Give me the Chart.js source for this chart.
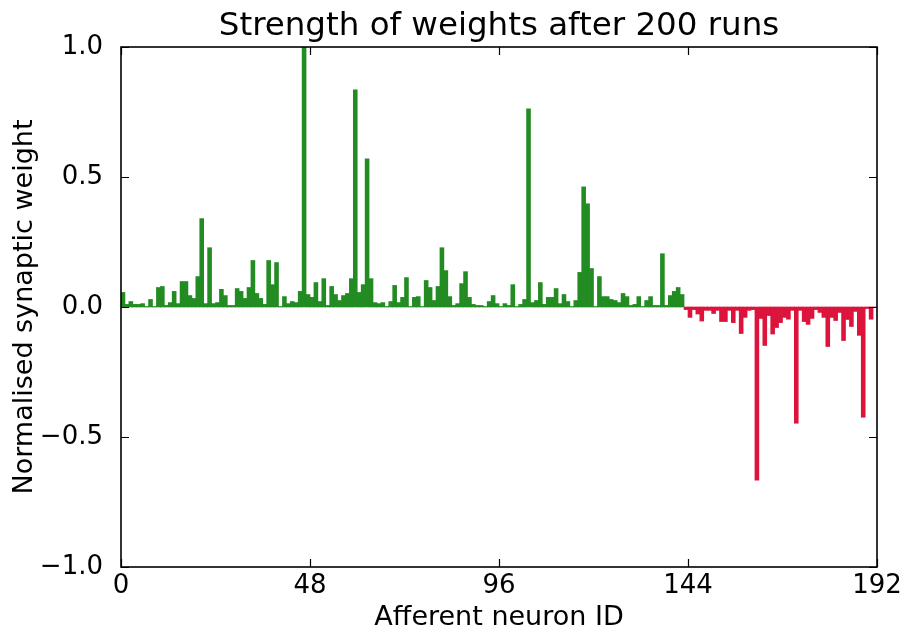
<!DOCTYPE html>
<html>
<head>
<meta charset="utf-8">
<script src="https://cdn.jsdelivr.net/npm/chart.js@4.4.1/dist/chart.umd.min.js"></script>
<style>
  html, body { margin: 0; padding: 0; background: #ffffff; }
  #wrap { width: 909px; height: 638px; }
</style>
</head>
<body>
<div id="wrap"><canvas id="c" width="909" height="638"></canvas></div>
<script>
// ---- data ----
const chartTitle = "Strength of weights after 200 runs";
const xAxisLabel = "Afferent neuron ID";
const yAxisLabel = "Normalised synaptic weight";

// excitatory afferents (IDs 0..142)
const weightsExc = [
  0.056, 0.010, 0.021, 0.010, 0.010, 0.013, 0.002, 0.029, 0.002, 0.075,
  0.079, 0.006, 0.017, 0.060, 0.013, 0.098, 0.098, 0.044, 0.033, 0.117,
  0.340, 0.013, 0.228, 0.013, 0.017, 0.068, 0.044, 0.006, 0.006, 0.071,
  0.060, 0.033, 0.075, 0.179, 0.052, 0.033, 0.010, 0.179, 0.086, 0.171,
  0.002, 0.040, 0.013, 0.021, 0.017, 0.060, 1.000, 0.048, 0.037, 0.094,
  0.021, 0.109, 0.006, 0.079, 0.048, 0.025, 0.044, 0.052, 0.109, 0.835,
  0.056, 0.086, 0.570, 0.109, 0.017, 0.013, 0.017, 0.002, 0.021, 0.083,
  0.017, 0.037, 0.113, 0.002, 0.037, 0.040, 0.002, 0.102, 0.075, 0.025,
  0.079, 0.228, 0.140, 0.040, 0.006, 0.013, 0.090, 0.136, 0.037, 0.010,
  0.006, 0.006, 0.002, 0.021, 0.044, 0.013, 0.002, 0.013, 0.006, 0.086,
  0.002, 0.010, 0.029, 0.762, 0.017, 0.025, 0.094, 0.010, 0.037, 0.037,
  0.071, 0.013, 0.048, 0.021, 0.002, 0.025, 0.133, 0.462, 0.397, 0.148,
  0.002, 0.117, 0.040, 0.040, 0.029, 0.025, 0.017, 0.052, 0.040, 0.006,
  0.010, 0.040, 0.002, 0.025, 0.040, 0.006, 0.006, 0.205, 0.006, 0.044,
  0.060, 0.075, 0.048
];
// inhibitory afferents (IDs 143..191)
const weightsInh = [
  -0.010, -0.040, -0.010, -0.027, -0.054, -0.013, -0.013, -0.025, -0.013, -0.056,
  -0.056, -0.013, -0.060, -0.013, -0.102, -0.040, -0.013, -0.010, -0.666, -0.044,
  -0.148, -0.033, -0.104, -0.079, -0.060, -0.040, -0.047, -0.013, -0.447, -0.013,
  -0.056, -0.067, -0.044, -0.010, -0.021, -0.040, -0.152, -0.040, -0.052, -0.021,
  -0.129, -0.048, -0.075, -0.017, -0.109, -0.424, -0.006, -0.047, 0.000
];
const xTickValues = [0, 48, 96, 144, 192];
const xTickLabels = ["0", "48", "96", "144", "192"];
const yTickValues = [-1.0, -0.5, 0.0, 0.5, 1.0];
const yTickLabels = ["\u22121.0", "\u22120.5", "0.0", "0.5", "1.0"];
const excColor = "#228B22";
const inhColor = "#DC143C";

// ---- build library structures ----
const firstInhId = weightsExc.length;
const excPoints = weightsExc.map((w, i) => ({ x: i + 0.5, y: w }));
const inhPoints = weightsInh.map((w, i) => ({ x: firstInhId + i + 0.5, y: w }));

const FONT = "'DejaVu Sans', 'Liberation Sans', sans-serif";

const framePlugin = {
  id: 'frameTicks',
  afterDraw(chart) {
    const { ctx, chartArea: a, scales } = chart;
    const len = 8;
    ctx.save();
    ctx.strokeStyle = '#000';
    ctx.lineWidth = 1.2;
    ctx.beginPath();
    xTickValues.forEach(v => {
      const px = Math.round(scales.x.getPixelForValue(v)) + 0.5;
      ctx.moveTo(px, a.bottom); ctx.lineTo(px, a.bottom - len);
      ctx.moveTo(px, a.top); ctx.lineTo(px, a.top + len);
    });
    yTickValues.forEach(v => {
      const py = Math.round(scales.y.getPixelForValue(v)) + 0.5;
      ctx.moveTo(a.left, py); ctx.lineTo(a.left + len, py);
      ctx.moveTo(a.right, py); ctx.lineTo(a.right - len, py);
    });
    ctx.stroke();
    ctx.lineWidth = 1.6;
    ctx.strokeRect(a.left, a.top, a.right - a.left, a.bottom - a.top);
    ctx.restore();
  }
};

new Chart(document.getElementById('c'), {
  type: 'bar',
  data: {
    datasets: [
      { label: 'excitatory', data: excPoints, backgroundColor: excColor, borderWidth: 0,
        barPercentage: 1.0, categoryPercentage: 1.0, grouped: false },
      { label: 'inhibitory', data: inhPoints, backgroundColor: inhColor, borderWidth: 0,
        barPercentage: 1.0, categoryPercentage: 1.0, grouped: false }
    ]
  },
  options: {
    responsive: false,
    animation: false,
    devicePixelRatio: 1,
    layout: { padding: { left: 0, right: 32, top: 0, bottom: 0 } },
    plugins: {
      legend: { display: false },
      tooltip: { enabled: false },
      title: {
        display: true,
        fullSize: false,
        text: chartTitle,
        color: '#000',
        font: { family: FONT, size: 32.5, weight: 'normal' },
        padding: { top: 7, bottom: 1 }
      }
    },
    scales: {
      x: {
        type: 'linear',
        offset: false,
        min: 0, max: 192,
        afterBuildTicks(scale) { scale.ticks = xTickValues.map(v => ({ value: v })); },
        afterFit(scale) { scale.height = 71; },
        grid: { display: false, drawTicks: false },
        border: { display: false },
        ticks: {
          color: '#000',
          font: { family: FONT, size: 26 },
          padding: 4,
          maxRotation: 0,
          autoSkip: false,
          callback: (v, i) => xTickLabels[i]
        },
        title: {
          display: true, text: xAxisLabel, color: '#000',
          font: { family: FONT, size: 27 },
          padding: { top: 0, bottom: 4 }
        }
      },
      y: {
        type: 'linear',
        min: -1, max: 1,
        afterBuildTicks(scale) { scale.ticks = yTickValues.map(v => ({ value: v })); },
        afterFit(scale) { scale.width = 121; },
        grid: { display: false, drawTicks: false },
        border: { display: false },
        ticks: {
          color: '#000',
          font: { family: FONT, size: 26 },
          padding: 18,
          autoSkip: false,
          callback: (v, i) => yTickLabels[i]
        },
        title: {
          display: true, text: yAxisLabel, color: '#000',
          font: { family: FONT, size: 27 },
          padding: { top: 9, bottom: 0 }
        }
      }
    }
  },
  plugins: [framePlugin]
});
</script>
</body>
</html>
